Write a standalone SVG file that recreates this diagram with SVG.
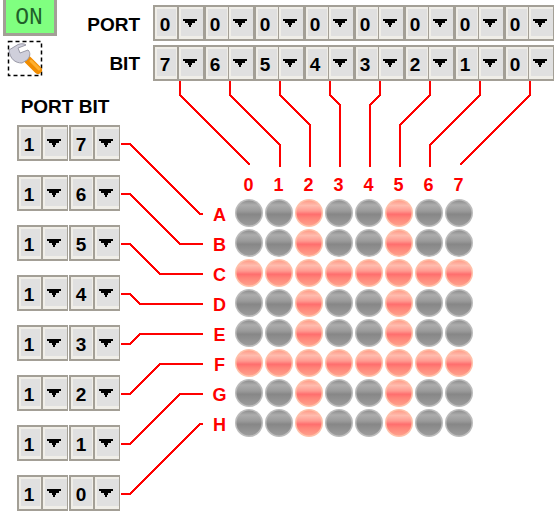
<svg xmlns="http://www.w3.org/2000/svg" xmlns:xlink="http://www.w3.org/1999/xlink" width="558" height="526" viewBox="0 0 558 526">
<style>
.t{font-family:"Liberation Sans",Arial,sans-serif;font-weight:bold;font-size:19px;fill:#000;text-anchor:middle}
.e{text-anchor:end}
.r{fill:#f00;font-size:18px}
.w{fill:none;stroke:#f00;stroke-width:2;shape-rendering:crispEdges}
</style>
<defs>
<linearGradient id="gi" x1="0" y1="0" x2="0" y2="1"><stop offset="0" stop-color="#8e8e8e"/><stop offset="0.18" stop-color="#acacac"/><stop offset="0.42" stop-color="#9a9a9a"/><stop offset="0.55" stop-color="#878787"/><stop offset="1" stop-color="#9c9c9c"/></linearGradient>
<linearGradient id="ri" x1="0" y1="0" x2="0" y2="1"><stop offset="0" stop-color="#ff9c88"/><stop offset="0.2" stop-color="#ffbcae"/><stop offset="0.42" stop-color="#ff9a90"/><stop offset="0.55" stop-color="#ff6e6e"/><stop offset="0.7" stop-color="#ff8478"/><stop offset="1" stop-color="#ffa08c"/></linearGradient>
<g id="off"><circle r="14" fill="#bcbcbc"/><circle r="12.500" fill="url(#gi)"/></g>
<g id="lit"><circle r="14" fill="#ffc0a8"/><circle r="12.500" fill="url(#ri)"/></g>
<g id="half"><rect width="25" height="36" fill="#a39f96"/><rect x="2" y="2" width="22" height="32" fill="#f0eee8"/><rect x="4" y="4" width="19" height="27" fill="#e0e0e0"/></g>
<g id="arr"><rect width="26" height="36" fill="#a39f96"/><rect x="1" y="2" width="24" height="32" fill="#f0eee8"/><rect x="3" y="4" width="22" height="27" fill="#e0e0e0"/><path d="M5 14h14v2h-2v2h-3v2h-1v2h-2v-2h-1v-2h-3v-2h-2z" fill="#000"/></g>
</defs>
<rect width="558" height="526" fill="#fff"/>
<g id="connectors">
<path class="w" d="M180 81V95L250 165"/>
<path class="w" d="M230 81V95L280 145V167"/>
<path class="w" d="M280 81V95L310 125V167"/>
<path class="w" d="M330 81V95L340 105V167"/>
<path class="w" d="M380 81V95L370 105V167"/>
<path class="w" d="M430 81V95L400 125V167"/>
<path class="w" d="M480 81V95L430 145V167"/>
<path class="w" d="M530 81V95L460 165"/>
<path class="w" d="M121 144H130L200 214H203"/>
<path class="w" d="M121 194H130L180 244H203"/>
<path class="w" d="M121 244H130L160 274H203"/>
<path class="w" d="M121 294H130L140 304H203"/>
<path class="w" d="M121 344H130L140 334H203"/>
<path class="w" d="M121 394H130L160 364H203"/>
<path class="w" d="M121 444H130L180 394H203"/>
<path class="w" d="M121 494H130L200 424H203"/>
</g>
<g id="on-button"><rect x="3" y="-2" width="54" height="37" fill="#80ff80"/><path d="M4.500 0V34.500H55.500V0" fill="none" stroke="#a39f96" stroke-width="3"/><text x="29" y="24" style="font-family:'Liberation Mono','DejaVu Sans Mono',monospace;font-size:23px;fill:#1f5f2a;text-anchor:middle">ON</text></g>
<g id="tool-icon">
<rect x="8.500" y="41.500" width="33" height="34" fill="none" stroke="#000" stroke-width="1.500" stroke-dasharray="4 3"/>
<path d="M28 60L38 70" stroke="#f08c00" stroke-width="8" stroke-linecap="round"/>
<path d="M31 61L39 69" stroke="#ffb030" stroke-width="3" stroke-linecap="round"/>
<path d="M9 50L18 44.500C22 43 25 44 26 45L18 48L20 53L28 50C31 53 30 57 27 60L22 63C15 63 10 59 9 50z" fill="#cfcfdb" stroke="#9a9aa8" stroke-width="1"/>
</g>
<g id="port-label"><text class="t e" x="140" y="31">PORT</text></g>
<g id="bit-label"><text class="t e" x="140" y="70">BIT</text></g>
<g id="portbit-label"><text class="t" x="65" y="113">PORT BIT</text></g>
<g id="top-port">
<g id="p0"><use xlink:href="#half" x="153" y="5"/><use xlink:href="#arr" x="178" y="5"/><text class="t" x="165" y="31">0</text></g>
<g id="p1"><use xlink:href="#half" x="204" y="5"/><use xlink:href="#arr" x="228" y="5"/><text class="t" x="215" y="31">0</text></g>
<g id="p2"><use xlink:href="#half" x="254" y="5"/><use xlink:href="#arr" x="278" y="5"/><text class="t" x="265" y="31">0</text></g>
<g id="p3"><use xlink:href="#half" x="304" y="5"/><use xlink:href="#arr" x="328" y="5"/><text class="t" x="315" y="31">0</text></g>
<g id="p4"><use xlink:href="#half" x="354" y="5"/><use xlink:href="#arr" x="378" y="5"/><text class="t" x="365" y="31">0</text></g>
<g id="p5"><use xlink:href="#half" x="404" y="5"/><use xlink:href="#arr" x="428" y="5"/><text class="t" x="415" y="31">0</text></g>
<g id="p6"><use xlink:href="#half" x="454" y="5"/><use xlink:href="#arr" x="478" y="5"/><text class="t" x="465" y="31">0</text></g>
<g id="p7"><use xlink:href="#half" x="504" y="5"/><use xlink:href="#arr" x="528" y="5"/><text class="t" x="515" y="31">0</text></g>
</g>
<g id="top-bit">
<g id="b0"><use xlink:href="#half" x="153" y="45"/><use xlink:href="#arr" x="178" y="45"/><text class="t" x="165" y="71">7</text></g>
<g id="b1"><use xlink:href="#half" x="204" y="45"/><use xlink:href="#arr" x="228" y="45"/><text class="t" x="215" y="71">6</text></g>
<g id="b2"><use xlink:href="#half" x="254" y="45"/><use xlink:href="#arr" x="278" y="45"/><text class="t" x="265" y="71">5</text></g>
<g id="b3"><use xlink:href="#half" x="304" y="45"/><use xlink:href="#arr" x="328" y="45"/><text class="t" x="315" y="71">4</text></g>
<g id="b4"><use xlink:href="#half" x="354" y="45"/><use xlink:href="#arr" x="378" y="45"/><text class="t" x="365" y="71">3</text></g>
<g id="b5"><use xlink:href="#half" x="404" y="45"/><use xlink:href="#arr" x="428" y="45"/><text class="t" x="415" y="71">2</text></g>
<g id="b6"><use xlink:href="#half" x="454" y="45"/><use xlink:href="#arr" x="478" y="45"/><text class="t" x="465" y="71">1</text></g>
<g id="b7"><use xlink:href="#half" x="504" y="45"/><use xlink:href="#arr" x="528" y="45"/><text class="t" x="515" y="71">0</text></g>
</g>
<g id="left-combos">
<g id="l7"><use xlink:href="#half" x="17" y="125"/><use xlink:href="#arr" x="42" y="125"/><use xlink:href="#half" x="69" y="125"/><use xlink:href="#arr" x="94" y="125"/><text class="t" x="29" y="151">1</text><text class="t" x="81" y="151">7</text></g>
<g id="l6"><use xlink:href="#half" x="17" y="175"/><use xlink:href="#arr" x="42" y="175"/><use xlink:href="#half" x="69" y="175"/><use xlink:href="#arr" x="94" y="175"/><text class="t" x="29" y="201">1</text><text class="t" x="81" y="201">6</text></g>
<g id="l5"><use xlink:href="#half" x="17" y="225"/><use xlink:href="#arr" x="42" y="225"/><use xlink:href="#half" x="69" y="225"/><use xlink:href="#arr" x="94" y="225"/><text class="t" x="29" y="251">1</text><text class="t" x="81" y="251">5</text></g>
<g id="l4"><use xlink:href="#half" x="17" y="275"/><use xlink:href="#arr" x="42" y="275"/><use xlink:href="#half" x="69" y="275"/><use xlink:href="#arr" x="94" y="275"/><text class="t" x="29" y="301">1</text><text class="t" x="81" y="301">4</text></g>
<g id="l3"><use xlink:href="#half" x="17" y="325"/><use xlink:href="#arr" x="42" y="325"/><use xlink:href="#half" x="69" y="325"/><use xlink:href="#arr" x="94" y="325"/><text class="t" x="29" y="351">1</text><text class="t" x="81" y="351">3</text></g>
<g id="l2"><use xlink:href="#half" x="17" y="375"/><use xlink:href="#arr" x="42" y="375"/><use xlink:href="#half" x="69" y="375"/><use xlink:href="#arr" x="94" y="375"/><text class="t" x="29" y="401">1</text><text class="t" x="81" y="401">2</text></g>
<g id="l1"><use xlink:href="#half" x="17" y="425"/><use xlink:href="#arr" x="42" y="425"/><use xlink:href="#half" x="69" y="425"/><use xlink:href="#arr" x="94" y="425"/><text class="t" x="29" y="451">1</text><text class="t" x="81" y="451">1</text></g>
<g id="l0"><use xlink:href="#half" x="17" y="475"/><use xlink:href="#arr" x="42" y="475"/><use xlink:href="#half" x="69" y="475"/><use xlink:href="#arr" x="94" y="475"/><text class="t" x="29" y="501">1</text><text class="t" x="81" y="501">0</text></g>
</g>
<g id="col-labels">
<text class="t r" x="248.500" y="191">0</text><text class="t r" x="278.500" y="191">1</text><text class="t r" x="308.500" y="191">2</text><text class="t r" x="338.500" y="191">3</text><text class="t r" x="368.500" y="191">4</text><text class="t r" x="398.500" y="191">5</text><text class="t r" x="428.500" y="191">6</text><text class="t r" x="458.500" y="191">7</text>
</g>
<g id="row-labels">
<text class="t r" x="219.500" y="221">A</text><text class="t r" x="219.500" y="251">B</text><text class="t r" x="219.500" y="281">C</text><text class="t r" x="219.500" y="311">D</text><text class="t r" x="219.500" y="341">E</text><text class="t r" x="219.500" y="371">F</text><text class="t r" x="219.500" y="401">G</text><text class="t r" x="219.500" y="431">H</text>
</g>
<g id="leds">
<g id="row-a"><use xlink:href="#off" x="249" y="213"/><use xlink:href="#off" x="279" y="213"/><use xlink:href="#lit" x="309" y="213"/><use xlink:href="#off" x="339" y="213"/><use xlink:href="#off" x="369" y="213"/><use xlink:href="#lit" x="399" y="213"/><use xlink:href="#off" x="429" y="213"/><use xlink:href="#off" x="459" y="213"/></g>
<g id="row-b"><use xlink:href="#off" x="249" y="243"/><use xlink:href="#off" x="279" y="243"/><use xlink:href="#lit" x="309" y="243"/><use xlink:href="#off" x="339" y="243"/><use xlink:href="#off" x="369" y="243"/><use xlink:href="#lit" x="399" y="243"/><use xlink:href="#off" x="429" y="243"/><use xlink:href="#off" x="459" y="243"/></g>
<g id="row-c"><use xlink:href="#lit" x="249" y="273"/><use xlink:href="#lit" x="279" y="273"/><use xlink:href="#lit" x="309" y="273"/><use xlink:href="#lit" x="339" y="273"/><use xlink:href="#lit" x="369" y="273"/><use xlink:href="#lit" x="399" y="273"/><use xlink:href="#lit" x="429" y="273"/><use xlink:href="#lit" x="459" y="273"/></g>
<g id="row-d"><use xlink:href="#off" x="249" y="303"/><use xlink:href="#off" x="279" y="303"/><use xlink:href="#lit" x="309" y="303"/><use xlink:href="#off" x="339" y="303"/><use xlink:href="#off" x="369" y="303"/><use xlink:href="#lit" x="399" y="303"/><use xlink:href="#off" x="429" y="303"/><use xlink:href="#off" x="459" y="303"/></g>
<g id="row-e"><use xlink:href="#off" x="249" y="333"/><use xlink:href="#off" x="279" y="333"/><use xlink:href="#lit" x="309" y="333"/><use xlink:href="#off" x="339" y="333"/><use xlink:href="#off" x="369" y="333"/><use xlink:href="#lit" x="399" y="333"/><use xlink:href="#off" x="429" y="333"/><use xlink:href="#off" x="459" y="333"/></g>
<g id="row-f"><use xlink:href="#lit" x="249" y="363"/><use xlink:href="#lit" x="279" y="363"/><use xlink:href="#lit" x="309" y="363"/><use xlink:href="#lit" x="339" y="363"/><use xlink:href="#lit" x="369" y="363"/><use xlink:href="#lit" x="399" y="363"/><use xlink:href="#lit" x="429" y="363"/><use xlink:href="#lit" x="459" y="363"/></g>
<g id="row-g"><use xlink:href="#off" x="249" y="393"/><use xlink:href="#off" x="279" y="393"/><use xlink:href="#lit" x="309" y="393"/><use xlink:href="#off" x="339" y="393"/><use xlink:href="#off" x="369" y="393"/><use xlink:href="#lit" x="399" y="393"/><use xlink:href="#off" x="429" y="393"/><use xlink:href="#off" x="459" y="393"/></g>
<g id="row-h"><use xlink:href="#off" x="249" y="423"/><use xlink:href="#off" x="279" y="423"/><use xlink:href="#lit" x="309" y="423"/><use xlink:href="#off" x="339" y="423"/><use xlink:href="#off" x="369" y="423"/><use xlink:href="#lit" x="399" y="423"/><use xlink:href="#off" x="429" y="423"/><use xlink:href="#off" x="459" y="423"/></g>
</g>
</svg>
